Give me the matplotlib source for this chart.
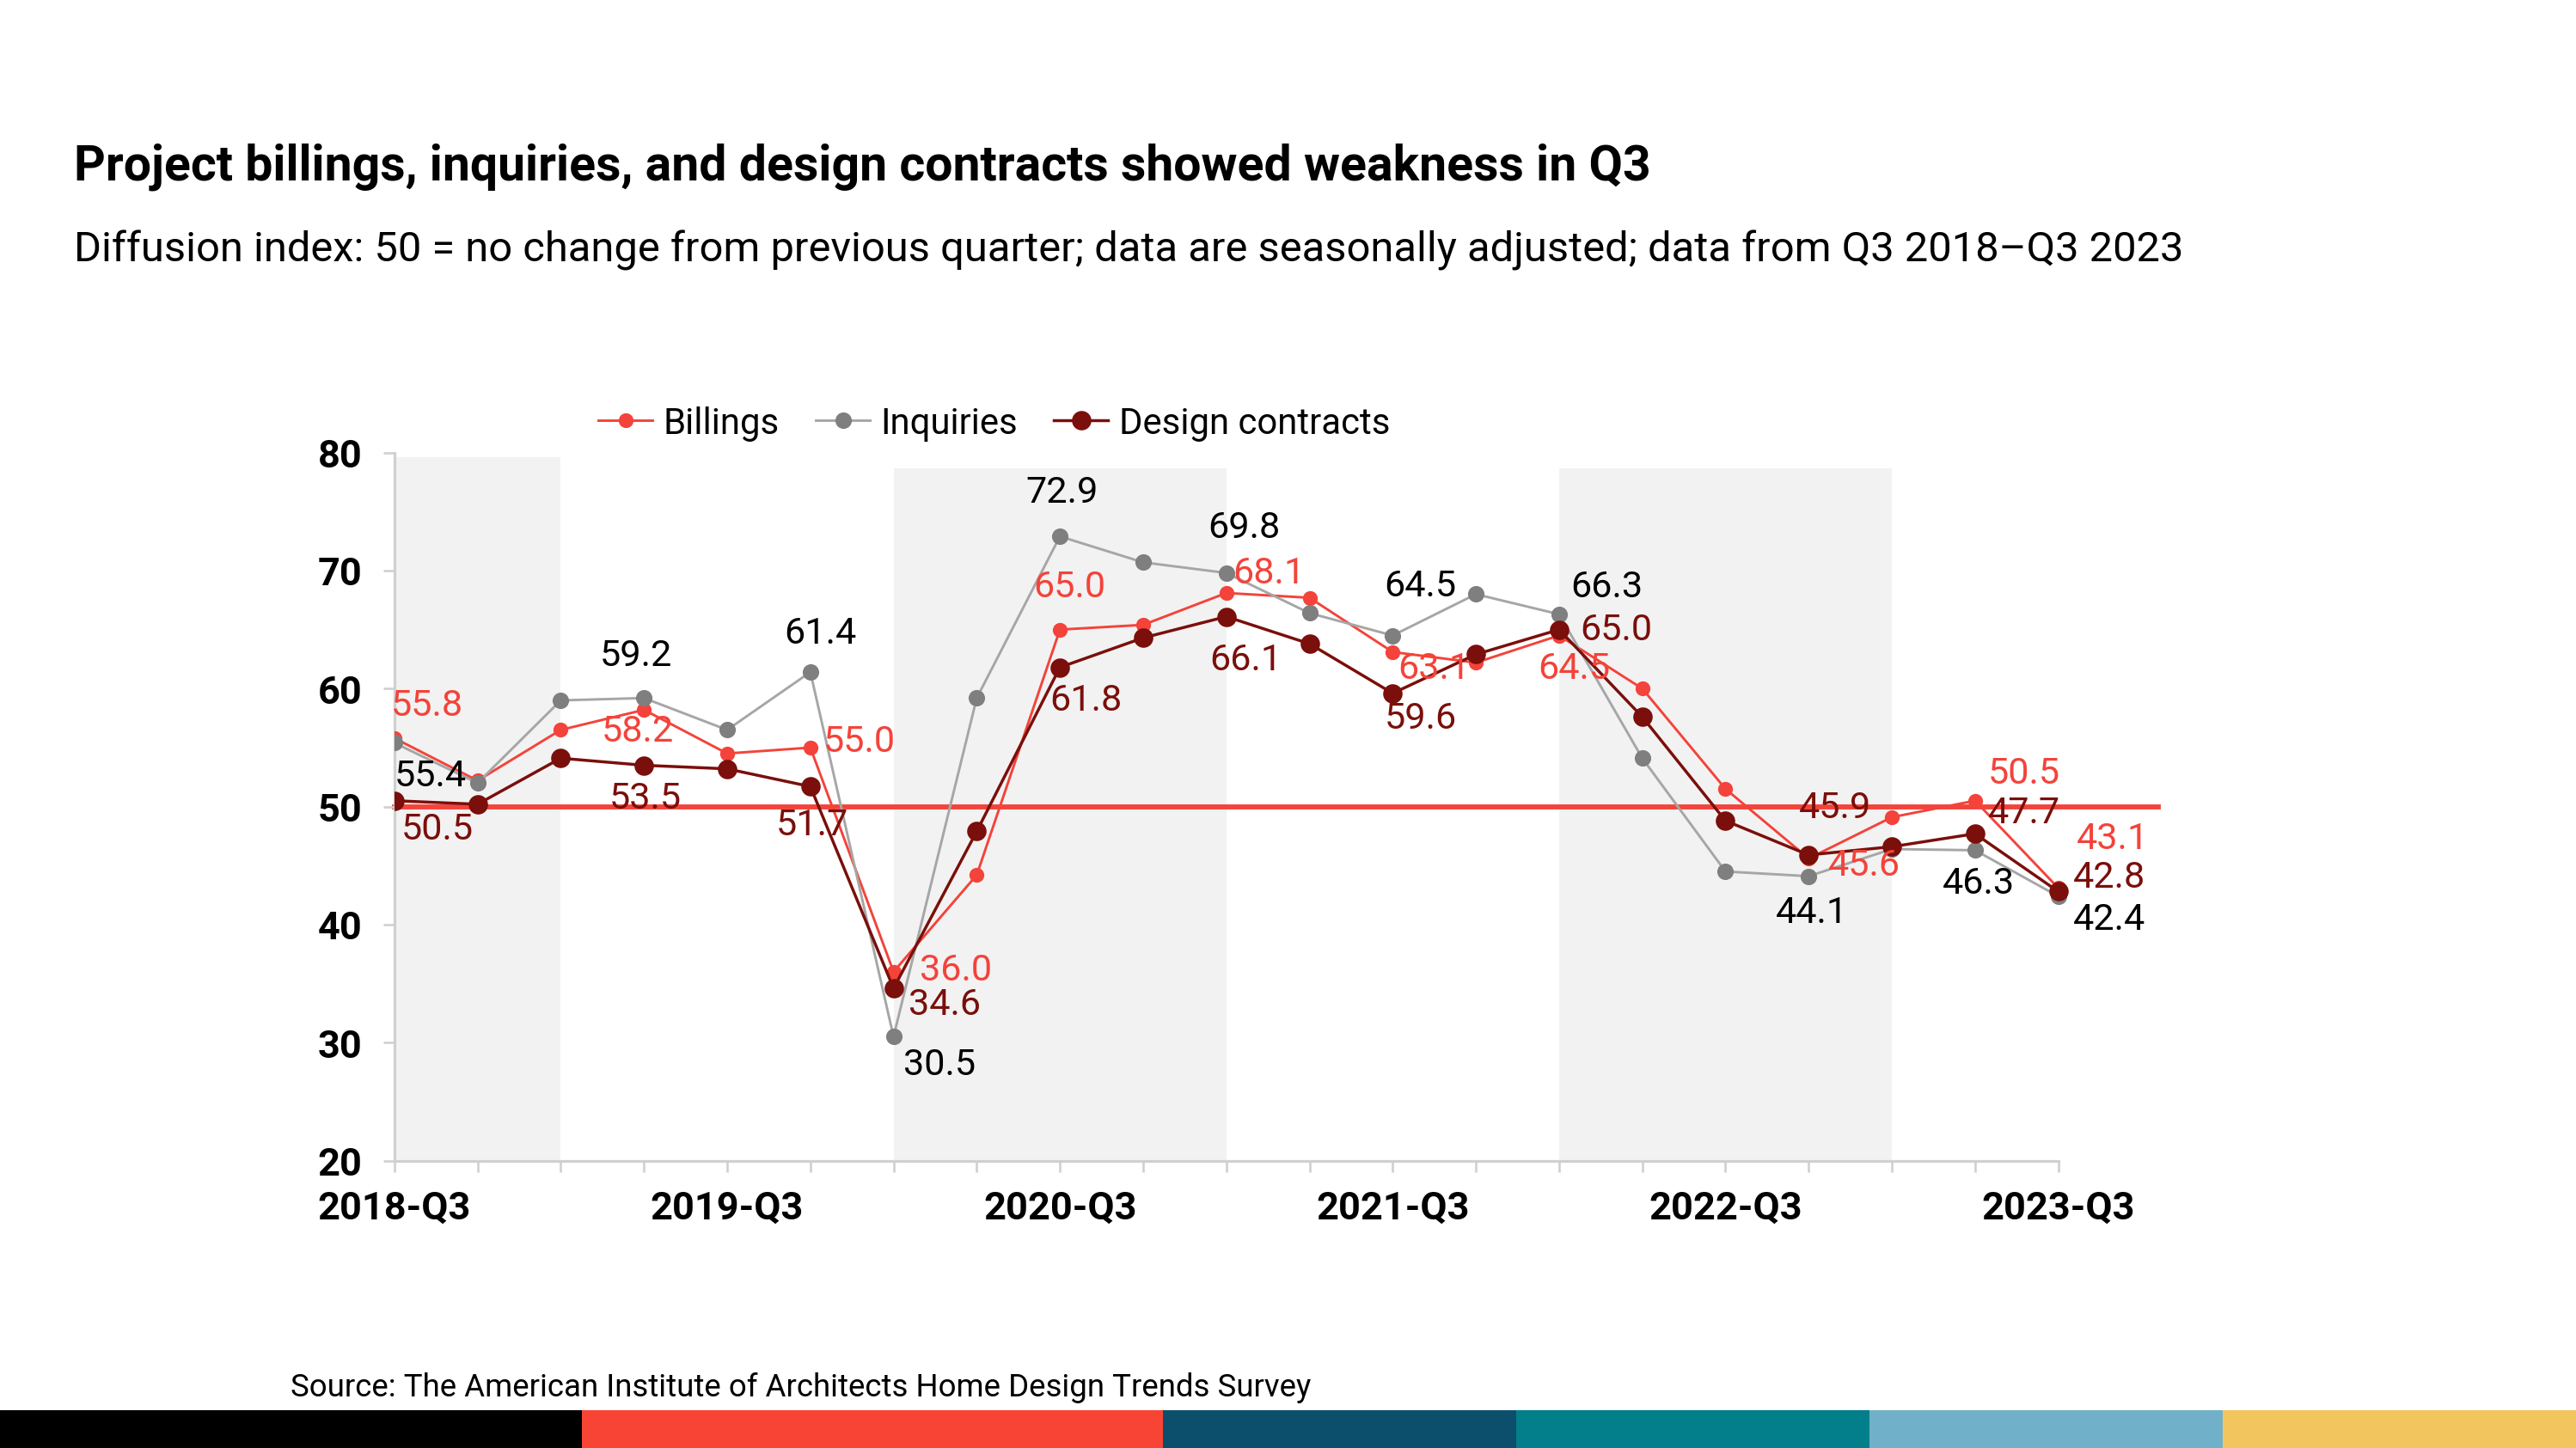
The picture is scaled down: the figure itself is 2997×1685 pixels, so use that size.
import matplotlib
matplotlib.use("Agg")
import matplotlib.pyplot as plt
from matplotlib.patches import Rectangle
from matplotlib.lines import Line2D

plt.rcParams["font.family"] = ["Roboto", "DejaVu Sans"]

# ---- data ----
quarters = [f"{y}-Q{q}" for y, q in
            [(2018, 3), (2018, 4)] + [(y, q) for y in (2019, 2020, 2021, 2022) for q in (1, 2, 3, 4)]
            + [(2023, 1), (2023, 2), (2023, 3)]]
billings = [55.8, 52.2, 56.5, 58.2, 54.5, 55.0, 36.0, 44.2, 65.0, 65.4, 68.1,
            67.7, 63.1, 62.2, 64.5, 60.0, 51.5, 45.6, 49.1, 50.5, 43.1]
inquiries = [55.4, 52.0, 59.0, 59.2, 56.5, 61.4, 30.5, 59.2, 72.9, 70.7, 69.8,
             66.4, 64.5, 68.0, 66.3, 54.1, 44.5, 44.1, 46.4, 46.3, 42.4]
design = [50.5, 50.2, 54.1, 53.5, 53.2, 51.7, 34.6, 47.9, 61.8, 64.3, 66.1,
          63.8, 59.6, 62.9, 65.0, 57.6, 48.8, 45.9, 46.6, 47.7, 42.8]
labeled = [0, 3, 5, 6, 8, 10, 12, 14, 17, 19, 20]
# shaded periods: (first quarter idx, last quarter idx, top)
bands = [(0, 2, 79.6), (6, 10, 78.7), (14, 18, 78.7)]
baseline = 50

RED, GREY, GREYM, MAROON = "#F4433A", "#A6A6A6", "#7F7F7F", "#7A0F0B"

# label offsets (reference px, dx right / dy down), per series, same order as `labeled`
OFF_B = [(20, -20), (-4, 13), (30, -4), (38, -1), (6, -26), (26, -12), (25, 10), (9, 20), (34, 4), (30, -17), (33, -30)]
OFF_I = [(22, 20), (-5, -26), (6, -24), (28, 17), (1, -27), (11, -28), (17, -30), (29, -17), (2, 22), (2, 20), (31, 14)]
OFF_D = [(26, 17), (1, 20), (1, 23), (31, 10), (16, 20), (12, 26), (17, 15), (35, 0), (16, -29), (30, -13), (31, -9)]

fig = plt.figure(figsize=(15.68, 8.82), dpi=2997 / 15.68)
ax = fig.add_axes([0.1531, 0.1984, 0.6824, 0.4887])
x = list(range(len(quarters)))

for i0, i1, top in bands:
    ax.add_patch(Rectangle((i0, 20), i1 - i0, top - 20, facecolor="#F2F2F2",
                           edgecolor="none", zorder=0))

ax.plot([0, 21.2], [baseline, baseline], color=RED, lw=2.2, zorder=1, clip_on=False)

ax.plot(x, billings, color=RED, lw=1.1, marker="o", ms=5.5, zorder=3, label="Billings")
ax.plot(x, inquiries, color=GREY, lw=1.1, marker="o", ms=6.2, mfc=GREYM, mec=GREYM,
        zorder=4, label="Inquiries")
ax.plot(x, design, color=MAROON, lw=1.3, marker="o", ms=7.5, zorder=5, label="Design contracts")

for series, offs, col in [(billings, OFF_B, RED), (inquiries, OFF_I, "black"), (design, OFF_D, MAROON)]:
    for i, (dx, dy) in zip(labeled, offs):
        ax.annotate(f"{series[i]:.1f}", (i, series[i]), xytext=(dx * 0.72, -dy * 0.72),
                    textcoords="offset points", ha="center", va="center",
                    fontsize=16.3, color=col, zorder=6)

ax.set_xlim(0, 21.13)
ax.set_ylim(20, 80)
ax.set_yticks(range(20, 81, 10))
ax.set_xticks(x)
ax.set_xticklabels([q if i % 4 == 0 else "" for i, q in enumerate(quarters)])
for s in ["top", "right"]:
    ax.spines[s].set_visible(False)
for s in ["left", "bottom"]:
    ax.spines[s].set_color("#D0D0D0")
    ax.spines[s].set_linewidth(1.2)
ax.spines["bottom"].set_bounds(0, 20)
ax.tick_params(axis="both", colors="#D0D0D0", length=5, width=1.0, labelcolor="black")
ax.tick_params(axis="x", pad=8)
ax.tick_params(axis="y", pad=9)
for t in ax.get_xticklabels() + ax.get_yticklabels():
    t.set_fontsize(17)
    t.set_fontweight("bold")

handles = [Line2D([], [], color=RED, lw=1.1, marker="o", ms=5.5),
           Line2D([], [], color=GREY, lw=1.1, marker="o", ms=6.2, mfc=GREYM, mec=GREYM),
           Line2D([], [], color=MAROON, lw=1.3, marker="o", ms=7.5)]
fig.legend(handles, ["Billings", "Inquiries", "Design contracts"], loc="center",
           bbox_to_anchor=(0.386, 0.7075), ncol=3, frameon=False, fontsize=15.8,
           handlelength=1.5, handletextpad=0.3, columnspacing=1.0)

fig.text(0.0287, 0.885, "Project billings, inquiries, and design contracts showed weakness in Q3",
         fontsize=21.5, fontweight="bold", va="center")
fig.text(0.0287, 0.827, "Diffusion index: 50 = no change from previous quarter; data are "
         "seasonally adjusted; data from Q3 2018\u2013Q3 2023", fontsize=18.4, va="center")
fig.text(0.1129, 0.042, "Source: The American Institute of Architects Home Design Trends Survey",
         fontsize=13.8, va="center")

# bottom colour stripe
stripe = [(0, 354, "#000000"), (354, 708, "#F84434"), (708, 923, "#0B4F6C"),
          (923, 1138, "#037F8C"), (1138, 1353, "#70B1C9"), (1353, 1568, "#F3C55F")]
for a, b, c in stripe:
    fig.add_artist(Rectangle((a / 1568, 0), (b - a) / 1568, 23 / 882,
                             transform=fig.transFigure, facecolor=c, edgecolor="none"))

fig.savefig("out.png", dpi=2997 / 15.68)
